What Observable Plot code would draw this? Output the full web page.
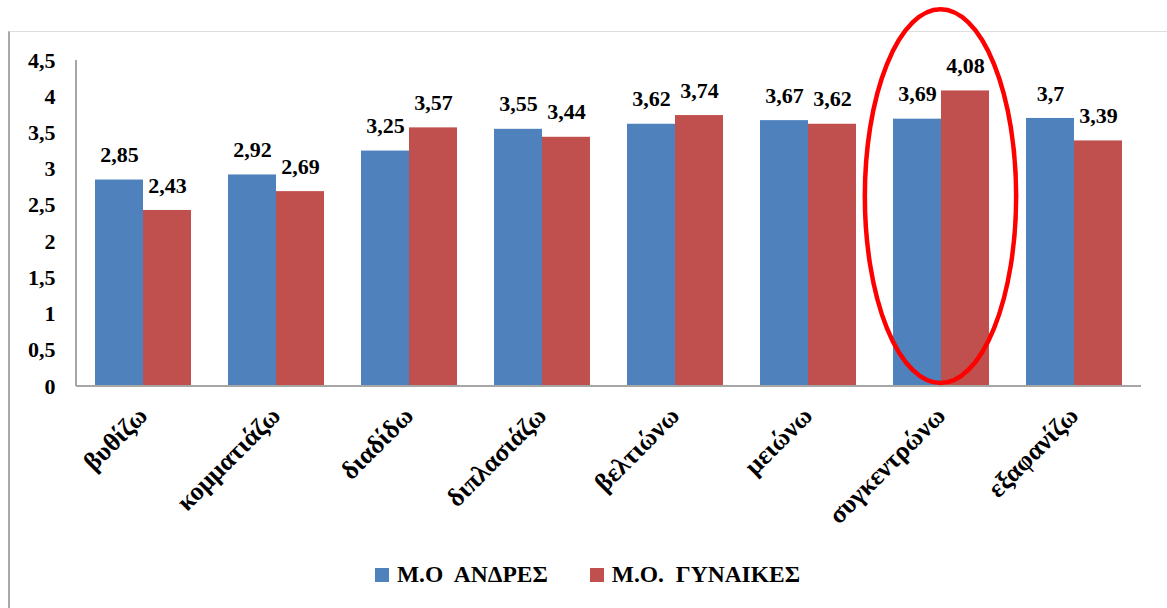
<!DOCTYPE html>
<html>
<head>
<meta charset="utf-8">
<script src="https://cdn.jsdelivr.net/npm/d3@7"></script>
<script src="https://cdn.jsdelivr.net/npm/@observablehq/plot@0.6"></script>
<style>
  body { margin: 0; background: #fff; }
  #wrap { position: relative; width: 1167px; height: 608px; overflow: hidden; background: #fff; }
  #frame { position: absolute; left: 8px; top: 31px; right: -2px; bottom: -2px;
           border-top: 1.5px solid #dedede; border-left: 2px solid #a9a9a9; }
  #chart { position: absolute; left: 0; top: 0; }
  #legend { position: absolute; left: 8px; width: 1159px; top: 561px; display: flex;
            justify-content: center; align-items: center; gap: 42px;
            font-family: "Liberation Serif", "Times New Roman", serif; font-weight: bold;
            font-size: 23.5px; color: #000; }
  .item { display: flex; align-items: center; gap: 8px; white-space: pre; }
  .swatch { width: 14px; height: 14px; display: inline-block; }
</style>
</head>
<body>
<div id="wrap">
  <div id="frame"></div>
  <div id="chart"></div>
  <div id="legend"></div>
</div>
<script>
// Verbs and mean scores by group
const categories = ["βυθίζω", "κομματιάζω", "διαδίδω", "διπλασιάζω", "βελτιώνω", "μειώνω", "συγκεντρώνω", "εξαφανίζω"];
const seriesNames = ["Μ.Ο  ΑΝΔΡΕΣ", "Μ.Ο.  ΓΥΝΑΙΚΕΣ"];
const menValues = [2.85, 2.92, 3.25, 3.55, 3.62, 3.67, 3.69, 3.7];
const womenValues = [2.43, 2.69, 3.57, 3.44, 3.74, 3.62, 4.08, 3.39];
const seriesColors = ["#4f81bd", "#c0504d"];
const yTicks = [0, 0.5, 1, 1.5, 2, 2.5, 3, 3.5, 4, 4.5];
const highlighted = "συγκεντρώνω";

const rows = categories.flatMap((cat, i) => [
  {cat, series: seriesNames[0], value: menValues[i]},
  {cat, series: seriesNames[1], value: womenValues[i]}
]);

// decimal comma
const fmt = v => String(v).replace(".", ",");

const font = "'Liberation Serif', 'Times New Roman', serif";

const plot = Plot.plot({
  width: 1167,
  height: 545,
  marginTop: 60,
  marginLeft: 76,
  marginRight: 26,
  marginBottom: 159,
  style: {fontFamily: font, fontWeight: "bold", fontSize: "22px", color: "#000", background: "transparent", overflow: "visible"},
  fx: {domain: categories, paddingInner: 0.27, paddingOuter: 0.135, label: null},
  x: {domain: seriesNames, padding: 0, axis: null},
  y: {domain: [0, 4.5], label: null},
  color: {domain: seriesNames, range: seriesColors},
  marks: [
    Plot.barY(rows, {fx: "cat", x: "series", y: "value", fill: "series"}),
    Plot.text(rows, {fx: "cat", x: "series", y: "value", text: d => fmt(d.value), dy: -25,
                     fontSize: 22, fontWeight: "bold", fill: "#000"}),
    // the y axis sits in the first facet, so padding reaches back past the outer gap
    Plot.axisY({ticks: yTicks, tickSize: 0, tickPadding: 39, tickFormat: fmt, fontSize: 22,
                fontWeight: "bold", fill: "#000", label: null}),
    Plot.axisFx({anchor: "bottom", tickSize: 0, tickRotate: -45, tickPadding: 25, fontSize: 26,
                 fontWeight: "bold", fill: "#000", label: null})
  ]
});

document.getElementById("chart").appendChild(plot);

// axis lines and highlight ellipse, placed from the plot's scales
const svg = d3.select(plot);
const fx = plot.scale("fx");
const y = plot.scale("y");
const x0 = fx.range[0], x1 = fx.range[1];
svg.append("line")
  .attr("x1", x0).attr("x2", x1).attr("y1", y.apply(0)).attr("y2", y.apply(0))
  .attr("stroke", "#a6a6a6").attr("stroke-width", 2);
svg.append("line")
  .attr("x1", x0).attr("x2", x0).attr("y1", y.apply(4.5)).attr("y2", y.apply(0))
  .attr("stroke", "#a6a6a6").attr("stroke-width", 2);

const ellTop = y.apply(5.2), ellBottom = y.apply(0.04);
svg.append("ellipse")
  .attr("cx", fx.apply(highlighted) + fx.bandwidth / 2)
  .attr("cy", (ellTop + ellBottom) / 2)
  .attr("rx", fx.bandwidth * 0.78)
  .attr("ry", (ellBottom - ellTop) / 2)
  .attr("fill", "none").attr("stroke", "#ff0000").attr("stroke-width", 4.5);

// legend
const legend = d3.select("#legend");
seriesNames.forEach((name, i) => {
  const item = legend.append("div").attr("class", "item");
  item.append("span").attr("class", "swatch").style("background", seriesColors[i]);
  item.append("span").text(name);
});
</script>
</body>
</html>
